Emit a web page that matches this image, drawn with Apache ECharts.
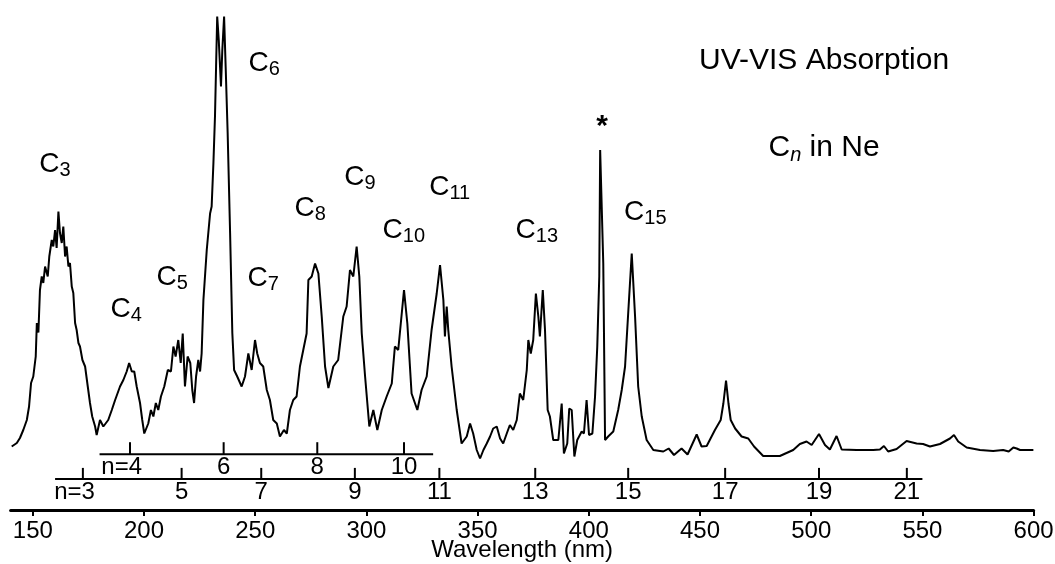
<!DOCTYPE html>
<html>
<head>
<meta charset="utf-8">
<script src="https://cdn.jsdelivr.net/npm/echarts@6/dist/echarts.min.js"></script>
<style>
  html, body { margin: 0; padding: 0; background: #fff; }
  #chart { width: 1055px; height: 564px; }
</style>
</head>
<body>
<div id="chart"></div>
<script>
// UV-VIS absorption spectrum of carbon chains C_n isolated in a neon matrix
const wavelength = [
  140.5,142.8,144.2,145.7,147.3,148.3,149.2,150.2,151.3,151.8,152.5,153.2,154.0,154.7,155.5,156.7,157.4,158.5,159.2,160.0,
  160.7,161.5,162.2,163.0,163.7,164.5,165.2,166.0,166.7,167.5,168.2,169.0,169.7,170.5,171.2,172.3,173.5,174.7,175.7,176.7,
  178.0,178.7,180.2,181.7,183.9,185.5,187.0,189.2,190.7,192.2,193.3,194.5,195.6,196.7,198.2,199.2,200.1,201.9,203.1,204.2,
  205.3,206.4,207.6,209.1,210.7,212.1,213.2,214.2,215.4,216.5,217.4,218.4,219.6,220.8,221.7,222.5,223.4,224.4,225.2,225.9,
  226.7,228.2,229.7,230.4,231.2,231.9,232.4,232.9,233.6,234.6,235.2,236.0,236.7,237.6,238.7,239.7,240.5,241.9,243.9,245.4,
  246.9,248.4,249.9,250.9,252.1,253.6,255.2,256.6,258.1,259.7,261.1,262.9,264.2,265.6,267.1,268.6,270.1,271.6,273.1,273.9,
  275.4,276.9,278.4,279.9,281.4,282.9,
  285.1,287.3,289.6,291.1,292.6,294.1,295.6,296.8,297.9,299.4,301.3,303.1,304.9,306.9,309.1,311.4,312.8,314.3,316.9,318.4,
  320.3,322.9,324.8,327.1,329.3,331.6,333.1,334.6,335.3,336.1,336.8,338.3,340.6,342.8,345.1,346.6,348.0,349.6,
  351.1,352.6,354.1,355.6,357.0,358.6,360.1,361.5,363.1,364.5,366.0,367.6,369.0,370.5,372.1,372.8,373.9,375.0,376.2,377.3,
  378.0,379.3,380.3,381.5,382.5,384.0,
  386.3,387.8,388.8,390.3,391.2,392.3,393.5,394.8,396.8,397.8,399.0,400.1,401.6,402.8,403.8,404.7,405.1,405.9,406.5,407.3,
  408.7,411.0,413.2,414.8,416.3,417.7,419.3,420.8,422.2,423.8,426.0,429.0,433.5,435.9,438.3,441.7,444.4,448.5,450.7,453.0,
  456.7,459.3,460.5,461.7,462.8,463.8,465.8,468.7,471.7,474.3,478.4,485.9,491.9,494.9,497.9,500.2,503.5,506.2,508.4,511.4,
  513.7,520.4,527.9,530.9,532.7,534.6,538.4,542.9,547.4,550.3,553.4,557.9,562.4,564.2,566.1,569.9,575.9,581.8,586.3,588.8,
  590.9,592.4,593.9,596.9,599.9
];
const absorbance = [
  12.7,13.4,14.4,16,18,20.7,25.4,26.7,30.7,37.4,35.5,44,46.7,45.4,48.7,46.7,50.7,54,52.7,56,
  52.4,59.7,55.4,53.4,56.7,50.7,52.7,48.7,49.4,44.7,43.4,37.4,36,33.4,32.7,30,28.7,24.7,21.4,18.7,
  16.7,15,18,16.7,18,20,22,24.7,26,27.7,29.4,27.7,27.7,24.7,21.4,18,15.3,17.3,20,18.7,
  21.4,20,22.7,24.7,28,27.7,32.7,30.7,34,29.4,35.3,24.7,30.7,29.4,24,21.4,26.7,30,27.7,31.3,
  42,52,59.3,60.7,69.4,78.7,88.7,98.7,94,84.7,92,98.7,88.7,75.4,55.4,35.4,28,26.7,24.7,26.7,
  31.3,28,34,31.3,29.4,28.7,24,22,18,17.3,14.7,16,15.3,20,22,22.7,28.7,32,35.3,46,
  46.7,49.3,47.3,38.7,28.7,24.4,
  28.7,30,38.7,40.7,48,46.7,52.7,46.7,35.3,26.7,16.7,20,16,20,22.7,25.3,32.7,32,44,37.3,
  23.3,20,24,26.7,36,43.3,49,42,34.7,40.7,36,28.7,20,13.3,14.7,17.3,15.3,12,
  10.3,12,13.3,14.7,16.3,16.7,14.3,13.3,15.3,17,16,18,23.3,22,28,34,31.3,34,43.3,38.7,
  34.7,44,36,20,18.7,14,
  14,21.3,11.3,13.3,20.3,20,10.7,14,15.7,15.3,22,15,15.3,22.7,32.7,46.7,72,72,49.3,14,
  14.7,15.7,20,24,28.7,39.3,51.3,38.7,24.7,18.7,14,12,11.7,12.3,11,12.3,11.1,15.1,12.7,12.8,
  16,18,21.3,25.9,21.3,18,16.3,14.7,14.3,12.7,10.8,10.8,12,13.2,13.7,13,15.2,13,12.1,14.8,
  12.1,12,12,12.1,12.8,11.7,12.2,13.8,13.3,13.2,12.7,13.2,14.3,15,13.7,12.5,12,11.8,12,11.7,
  12.5,12.3,12,12,12
];

// Wavelength axis ticks (nm)
const wavelengthTicks = [150, 200, 250, 300, 350, 400, 450, 500, 550, 600];

// Chain-length scales: band positions of odd and even C_n
const oddChainLabels = ['n=3', '5', '7', '9', '11', '13', '15', '17', '19', '21'];
const oddChainNm = [172.5, 216.9, 252.7, 294.8, 332.8, 375.9, 417.7, 461.3, 503.5, 543.0];
const evenChainLabels = ['n=4', '6', '8', '10'];
const evenChainNm = [193.7, 235.8, 277.9, 316.9];

// Band assignments C_n, anchored at the upper-left of each label
const peakNames = ['3', '4', '5', '6', '7', '8', '9', '10', '11', '13', '15'];
const peakLabelNm = [153.3, 185.4, 206.1, 247.4, 247.0, 268.1, 290.5, 307.7, 328.7, 367.5, 416.3];
const peakLabelA = [71.7, 42.8, 49.2, 92.0, 49.0, 63.0, 69.2, 58.5, 67.2, 58.5, 62.2];

// Impurity line marked with an asterisk
const starMark = [406.0, 76.6];

const FONT = '"Liberation Sans", Arial, Helvetica, sans-serif';

const chainScales = [
  { from: 160, to: 550, level: 6.22, tickLen: 11, nm: oddChainNm, labels: oddChainLabels },
  { from: 180, to: 330, level: 11.16, tickLen: 12, nm: evenChainNm, labels: evenChainLabels }
];

const spectrum = wavelength.map((w, i) => [w, absorbance[i]]);

const chart = echarts.init(document.getElementById('chart'), null, { renderer: 'canvas' });

chart.setOption({
  animation: false,
  backgroundColor: '#fff',
  title: [
    {
      text: 'UV-VIS Absorption',
      left: 699, top: 46, padding: 0,
      textStyle: { fontFamily: FONT, fontSize: 30, fontWeight: 'normal', color: '#000' }
    },
    {
      text: '{c|C}{s|n}{c| in Ne}',
      left: 768.5, top: 133, padding: 0,
      textStyle: {
        fontFamily: FONT, fontWeight: 'normal', color: '#000',
        rich: {
          c: { fontFamily: FONT, fontSize: 30, fontWeight: 'normal', lineHeight: 32, verticalAlign: 'top', padding: [0, 0, 4, 0], color: '#000' },
          s: { fontFamily: FONT, fontSize: 20, fontWeight: 'normal', fontStyle: 'italic', lineHeight: 20, verticalAlign: 'bottom', color: '#000' }
        }
      }
    }
  ],
  grid: { left: 10.6, right: 21.4, top: 10, bottom: 54, containLabel: false, outerBoundsMode: 'none' },
  xAxis: {
    type: 'value',
    min: 140, max: 600,
    name: 'Wavelength (nm)',
    nameLocation: 'middle',
    nameGap: 28,
    nameMoveOverlap: false,
    nameTextStyle: { fontFamily: FONT, fontSize: 24, color: '#000' },
    axisLine: { onZero: false, lineStyle: { color: '#000', width: 3 } },
    axisTick: { customValues: wavelengthTicks, length: 6, lineStyle: { color: '#000', width: 2 } },
    axisLabel: { customValues: wavelengthTicks, fontFamily: FONT, fontSize: 24, margin: 9, color: '#000' },
    splitLine: { show: false }
  },
  yAxis: { type: 'value', min: 0, max: 100, show: false },
  series: [
    {
      type: 'line',
      data: spectrum,
      showSymbol: false,
      lineStyle: { color: '#000', width: 2 },
      z: 3
    },
    {
      type: 'custom',
      data: chainScales.map(s => [s.from, s.level]),
      clip: false,
      silent: true,
      renderItem: function (params, api) {
        const s = chainScales[params.dataIndex];
        const p0 = api.coord([s.from, s.level]);
        const p1 = api.coord([s.to, s.level]);
        const y = p0[1];
        const children = [{
          type: 'line',
          shape: { x1: p0[0], y1: y, x2: p1[0], y2: y },
          style: { stroke: '#000', lineWidth: 2 }
        }];
        s.nm.forEach(function (v, i) {
          const x = api.coord([v, s.level])[0];
          children.push({
            type: 'line',
            shape: { x1: x, y1: y, x2: x, y2: y - s.tickLen },
            style: { stroke: '#000', lineWidth: 2 }
          });
          const lab = s.labels[i];
          const lead = lab.indexOf('=') >= 0;
          children.push({
            type: 'text',
            style: {
              text: lab,
              x: lead ? x + 12 : x,
              y: y + 1.5,
              align: lead ? 'right' : 'center',
              verticalAlign: 'top',
              font: '24px ' + FONT,
              fill: '#000'
            }
          });
        });
        return { type: 'group', children: children };
      }
    },
    {
      type: 'scatter',
      data: peakNames.map((n, i) => ({ name: n, value: [peakLabelNm[i], peakLabelA[i]] })),
      symbolSize: 2,
      itemStyle: { opacity: 0 },
      silent: true,
      label: {
        show: true,
        position: [0, 0],
        color: '#000',
        opacity: 1,
        formatter: p => '{c|C}{s|' + p.name + '}',
        rich: {
          c: { fontFamily: FONT, fontSize: 28, lineHeight: 30, verticalAlign: 'top', padding: [0, 0, 6, 0], color: '#000' },
          s: { fontFamily: FONT, fontSize: 20, lineHeight: 20, verticalAlign: 'bottom', color: '#000' }
        }
      }
    },
    {
      type: 'scatter',
      data: [starMark],
      symbolSize: 2,
      itemStyle: { opacity: 0 },
      silent: true,
      label: {
        show: true,
        position: 'inside',
        formatter: '*',
        fontFamily: FONT, fontSize: 30, fontWeight: 'bold', color: '#000', opacity: 1
      }
    }
  ]
});
</script>
</body>
</html>
